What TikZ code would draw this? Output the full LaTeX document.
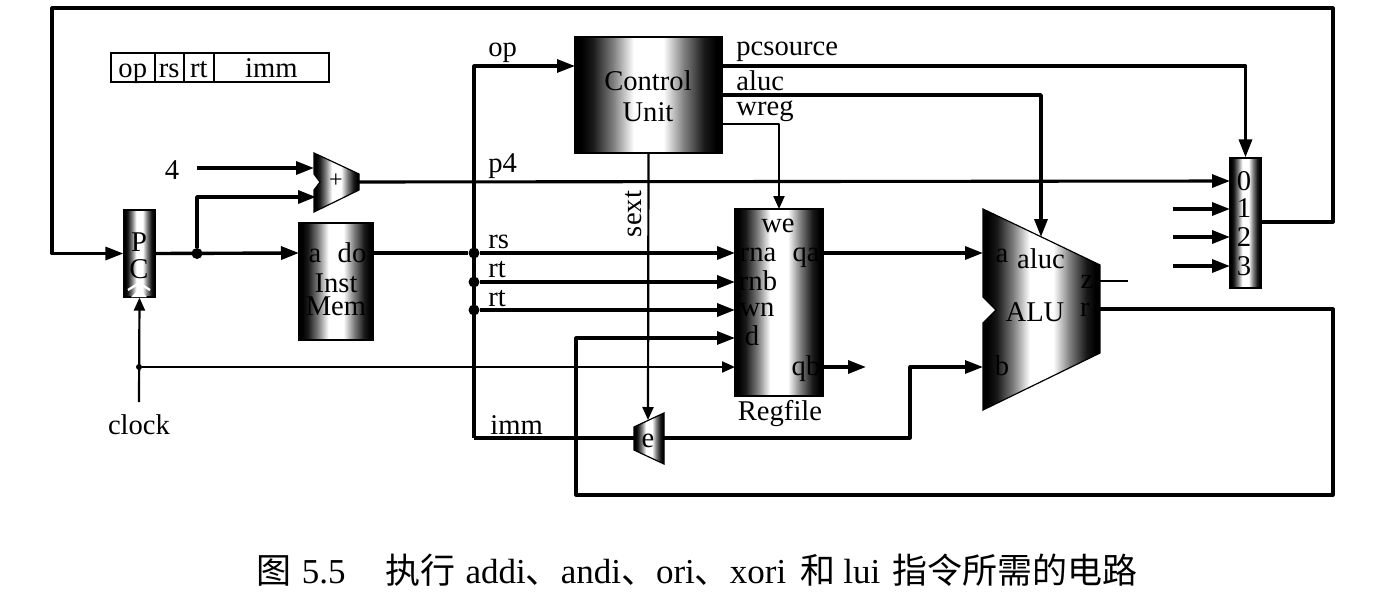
\documentclass[tikz,border=0pt]{standalone}
\usepackage{fontspec}
\setmainfont{Liberation Serif}
\newfontfamily\cjk{Noto Sans CJK SC}
\usetikzlibrary{arrows.meta,calc}
\pgfdeclarehorizontalshading{barshade}{100bp}{color(0bp)=(black); color(27bp)=(black); color(31bp)=(black!90); color(38bp)=(black!50); color(45bp)=(white); color(55bp)=(white); color(62bp)=(black!50); color(69bp)=(black!90); color(73bp)=(black); color(100bp)=(black)}
\tikzset{
  block/.style={draw=black,line width=.6pt,shade,shading=barshade,inner sep=0pt},
  lbl/.style={inner sep=0pt,font=\fontsize{14.3}{15}\selectfont,text=black,anchor=base},
  wire/.style={line width=1.7pt,line join=round},
  midwire/.style={line width=1.55pt,line join=round},
  thinwire/.style={line width=1.1pt,line join=round},
  arr/.style={-{Triangle[length=9pt,width=6.5pt]}},
  tarr/.style={-{Triangle[length=6.5pt,width=5.5pt]}},
  dot/.style={circle,fill=black,inner sep=0pt,minimum size=5.5pt},
  smalldot/.style={circle,fill=black,inner sep=0pt,minimum size=3pt},
  field/.style={draw=black,line width=.8pt,inner sep=0pt,text height=11pt,text depth=1.5pt,minimum height=14.5pt,font=\fontsize{14.3}{15}\selectfont,anchor=west}
}
\begin{document}
\begin{tikzpicture}[x=0.5pt,y=-0.5pt]
\useasboundingbox (0,0) rectangle (1389,595);
\fill[white] (0,0) rectangle (1389,595);

% instruction format
\node[field,minimum width=22pt] (fop) at (110,67.5) {op};
\node[field,minimum width=14.5pt] (frs) at (154,67.5) {rs};
\node[field,minimum width=15pt] (frt) at (183,67.5) {rt};
\node[field,minimum width=57.5pt] (fimm) at (213,67.5) {imm};

% blocks
\node[block,minimum width=15.5pt,minimum height=43.5pt] (pc) at (139.5,253.5) {};
\node[block,minimum width=37pt,minimum height=58.5pt] (imem) at (336,281.5) {};
\node[block,minimum width=73.5pt,minimum height=58pt] (cu) at (648.5,95) {};
\node[block,minimum width=44pt,minimum height=93.5pt] (rf) at (779,302.5) {};
\node[block,minimum width=15.5pt,minimum height=65pt] (mux) at (1245.5,223) {};
\shade[draw=black,line width=.6pt,shading=barshade] (314,153) -- (359,174) -- (359,190) -- (314,212) -- (314,190) -- (320,182) -- (314,174) -- cycle;
\shade[draw=black,line width=.6pt,shading=barshade] (634,427) -- (664,413) -- (664,464) -- (634,450) -- cycle;
\shade[draw=black,line width=.6pt,shading=barshade] (983,209) -- (1100,265) -- (1100,353) -- (983,410) -- (983,323) -- (996,310) -- (983,297) -- cycle;
% clock chevron on PC
\fill[white] (131,297) -- (139,289) -- (147,297) -- cycle;
\draw[white,line width=1.1pt] (128,290) -- (139,283) -- (150,290);

% pin coordinates
\coordinate (imemA) at (299,253);
\coordinate (imemD) at (373,253);
\coordinate (addA) at (314,168);
\coordinate (addB) at (316,197);
\coordinate (addR) at (359,182);
\coordinate (four) at (197,168);
\coordinate (cuOp) at (575,66);
\coordinate (cuPc) at (722,66);
\coordinate (cuAl) at (722,95);
\coordinate (cuWr) at (722,124);
\coordinate (rfWe) at (779,209);
\coordinate (rfRa) at (735,253);
\coordinate (rfRb) at (735,282);
\coordinate (rfWn) at (735,310);
\coordinate (rfD) at (735,338);
\coordinate (rfClk) at (735,367);
\coordinate (rfQa) at (823,253);
\coordinate (rfQb) at (823,367);
\coordinate (qbEnd) at (866,367);
\coordinate (aluA) at (983,253);
\coordinate (aluB) at (983,367);
\coordinate (aluC) at (1041,237);
\coordinate (aluZ) at (1100,281);
\coordinate (aluZe) at (1128,281);
\coordinate (aluR) at (1100,309);
\coordinate (extT) at (648,420);
\coordinate (extL) at (634,438);
\coordinate (extR) at (664,438);
\coordinate (mux0) at (1230,181);
\coordinate (mux1) at (1230,209);
\coordinate (mux2) at (1230,237);
\coordinate (mux3) at (1230,266);
\coordinate (m1s) at (1173,209);
\coordinate (m2s) at (1173,237);
\coordinate (m3s) at (1173,266);
\coordinate (clk) at (139,402);
\node[dot] (j1) at (197,253.5) {};
\node[dot] (j2) at (474,253) {};
\node[dot] (j3) at (474,282) {};
\node[dot] (j4) at (474,310) {};
\node[smalldot] (j5) at (139,367) {};

% connectors
\draw[midwire,arr] (mux.east |- 0,222) -- (1333,222) -- (1333,8) -- (52,8) -- (52,253.5) -- (pc.west);
\draw[wire,arr] (pc.east) -- (imemA);
\draw[wire,arr] (j1) |- (addB);
\draw[wire,arr] (four) -- (addA);
\draw[wire] (imemD) -- (j2);
\draw[wire,arr] (j2) -- (rfRa);
\draw[wire,arr] (j3) -- (rfRb);
\draw[wire,arr] (j4) -- (rfWn);
\draw[midwire,arr] (474,438) -- (474,66) -- (cuOp);
\draw[midwire] (extL) -- (474,438);
\draw[midwire,arr] (addR) -- (mux0);
\draw[wire,arr] (cuPc) -| (mux.north);
\draw[wire,arr] (cuAl) -| (aluC);
\draw[thinwire,tarr] (cuWr) -| (rfWe);
\draw[thinwire,tarr] (cu.south) -- (extT);
\draw[wire,arr] (rfQa) -- (aluA);
\draw[wire,arr] (rfQb) -- (qbEnd);
\draw[midwire,arr] (extR) -- (910,438) -- (910,367) -- (aluB);
\draw[midwire,arr] (aluR) -- (1333,309) -- (1333,495) -- (576,495) -- (576,338) -- (rfD);
\draw[thinwire] (aluZ) -- (aluZe);
\draw[thinwire,tarr] (clk) -- (pc.south);
\draw[thinwire,tarr] (j5) -- (rfClk);
\draw[wire,arr] (m1s) -- (mux1);
\draw[wire,arr] (m2s) -- (mux2);
\draw[wire,arr] (m3s) -- (mux3);

% block text
\node[lbl] (tP) at (139,251) {P};
\node[lbl] (tC) at (139,278) {C};
\node[lbl] (ta) at (315,262) {a};
\node[lbl] (tdo) at (352,262) {do};
\node[lbl] (tInst) at (336,292) {Inst};
\node[lbl] (tMem) at (336,315) {Mem};
\node[lbl] (tCtl) at (648,90) {Control};
\node[lbl] (tUni) at (648,121) {Unit};
\node[lbl,font=\fontsize{12}{13}\selectfont] (tplus) at (336,187) {+};
\node[lbl] (te) at (648,447) {e};
\node[lbl] (twe) at (778,232) {we};
\node[lbl] (trna) at (758,261) {rna};
\node[lbl] (tqa) at (806,261) {qa};
\node[lbl] (trnb) at (758,290) {rnb};
\node[lbl] (twn) at (757,316) {wn};
\node[lbl] (td) at (752,345) {d};
\node[lbl] (tqb) at (806,375) {qb};
\node[lbl] (taluc) at (1041,268) {aluc};
\node[lbl] (tALU) at (1035,321) {ALU};
\node[lbl] (taa) at (1002,262) {a};
\node[lbl] (tbb) at (1002,375) {b};
\node[lbl] (tzz) at (1087,288) {z};
\node[lbl] (trr) at (1085,316) {r};
\node[lbl] (t0) at (1244,190) {0};
\node[lbl] (t1) at (1244,217) {1};
\node[lbl] (t2) at (1244,246) {2};
\node[lbl] (t3) at (1244,275) {3};

% wire labels
\node[lbl,anchor=base west] (lop) at (488,56) {op};
\node[lbl,anchor=base west] (lp4) at (488,172) {p4};
\node[lbl,anchor=base west] (lrs) at (488,248) {rs};
\node[lbl,anchor=base west] (lrt) at (488,277) {rt};
\node[lbl,anchor=base west] (lrt2) at (488,306) {rt};
\node[lbl,anchor=base west] (limm) at (490,434) {imm};
\node[lbl,anchor=base west] (lpcs) at (736,55) {pcsource};
\node[lbl,anchor=base west] (lalu) at (736,90) {aluc};
\node[lbl,anchor=base west] (lwr) at (736,115) {wreg};
\node[lbl,rotate=90,anchor=center] (lsext) at (634,214) {sext};
\node[lbl] (lrf) at (780,420) {Regfile};
\node[lbl] (lclk) at (139,434) {clock};
\node[lbl] (lfour) at (172,179) {4};
\node[lbl,font=\fontsize{17.5}{18}\selectfont,anchor=center] (cap) at (697,570) {{\cjk 图}\hspace{5pt}5.5\hspace{20pt}{\cjk 执行}\hspace{5pt}addi{\cjk 、}andi{\cjk 、}ori{\cjk 、}xori\hspace{7pt}{\cjk 和}\hspace{4pt}lui\hspace{6pt}{\cjk 指令所需的电路}};
\end{tikzpicture}
\end{document}
